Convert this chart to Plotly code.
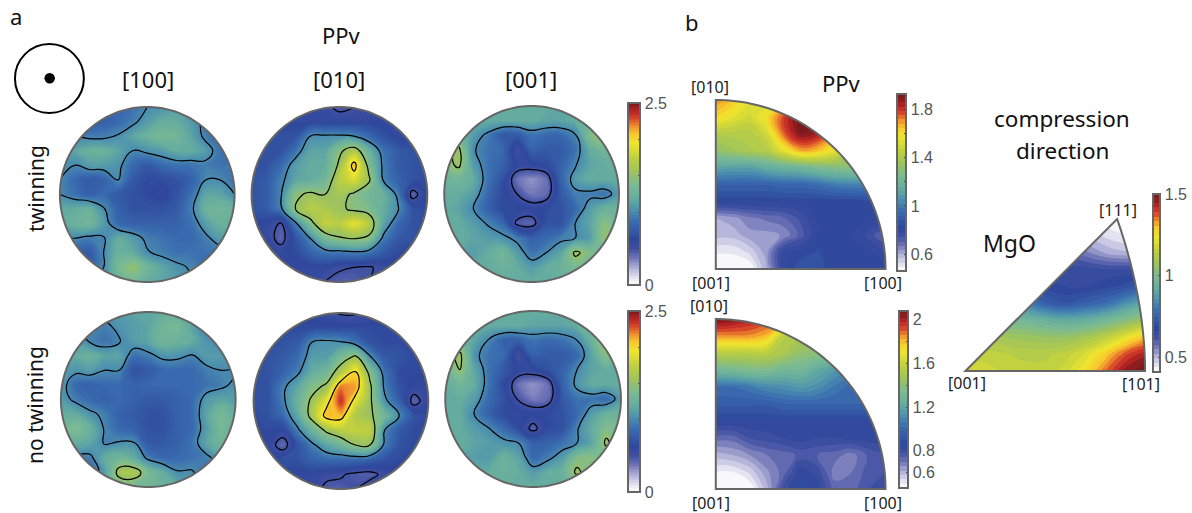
import numpy as np
import plotly.graph_objects as go

W, H = 1192, 513

# ---------- pole figure values, rows top to bottom ----------
tw_100 = [
 [.8,.8,.8,.8,.85,.9,1.0,1.05,1.1,1.1,1.0,1.0,1.0],
 [.8,.8,.75,.8,.85,.95,1.1,1.2,1.2,1.1,.95,.9,.9],
 [1.0,1.0,.95,.95,1.02,1.15,1.25,1.35,1.3,1.15,.95,.85,.85],
 [1.2,1.15,1.25,1.25,1.15,1.0,1.05,1.1,1.2,1.2,1.1,.9,.85],
 [1.05,1.0,1.1,1.1,1.05,.85,.75,.85,.9,.9,.95,.9,.95],
 [1.0,.85,.75,.8,1.0,.75,.65,.65,.7,.8,1.0,1.0,.9],
 [1.0,.9,.8,.85,.75,.7,.65,.6,.7,.88,1.15,1.15,1.0],
 [1.2,1.2,1.25,1.02,.8,.7,.7,.7,.75,.95,1.25,1.3,1.25],
 [1.2,1.25,1.3,1.1,.85,.8,.8,.8,.8,.88,1.1,1.25,1.2],
 [1.0,1.0,.95,.98,1.2,1.1,.95,.9,.85,.85,.95,1.1,1.1],
 [.8,.8,.75,1.0,1.25,1.2,1.02,.95,.9,.9,.9,.9,.9],
 [.8,.8,.8,1.0,1.35,1.5,1.3,1.15,1.05,.98,.9,.9,.9],
 [1.0,1.0,1.0,1.1,1.2,1.3,1.2,1.15,1.1,1.0,1.0,1.0,1.0],
]
tw_010 = [
 [.6,.6,.6,.6,.55,.55,.45,.5,.55,.6,.6,.6,.6],
 [.65,.6,.6,.6,.6,.6,.6,.6,.6,.6,.6,.6,.6],
 [.7,.7,.7,.7,1.0,1.03,1.03,1.0,.85,.7,.6,.6,.6],
 [.7,.7,.7,.9,1.15,1.15,1.45,1.65,1.25,.9,.75,.7,.7],
 [.7,.7,.85,1.1,1.2,1.2,1.55,2.1,1.42,.95,.75,.7,.7],
 [.7,.75,.95,1.15,1.2,1.3,1.7,1.85,1.55,.98,.8,.7,.65],
 [.7,.75,.98,1.45,1.55,1.5,1.6,1.45,1.3,1.25,.95,.42,.65],
 [.7,.75,.95,1.5,1.7,1.65,1.55,1.45,1.4,1.2,1.02,.7,.65],
 [.65,.6,.48,.95,1.4,1.75,1.7,1.9,1.7,1.15,.85,.7,.65],
 [.6,.6,.42,.7,1.0,1.35,1.48,1.52,1.45,.95,.75,.7,.65],
 [.6,.6,.6,.65,.8,.9,.92,.95,.9,.75,.65,.6,.6],
 [.6,.6,.6,.6,.6,.6,.52,.5,.48,.55,.6,.6,.6],
 [.6,.6,.6,.6,.6,.5,.45,.45,.5,.6,.6,.6,.6],
]
tw_001 = [
 [1.15,1.15,1.15,1.2,1.2,1.2,1.2,1.2,1.15,1.15,1.2,1.2,1.2],
 [1.15,1.15,1.2,1.2,1.2,1.2,1.2,1.15,1.15,1.2,1.25,1.2,1.15],
 [1.3,1.3,1.1,.95,.75,.75,.9,.85,.85,.98,1.4,1.55,1.3],
 [1.4,1.55,1.02,.9,.85,.5,.8,.75,.75,.9,1.2,1.3,1.2],
 [1.4,1.55,1.1,.9,.8,.6,.6,.65,.8,.98,1.15,1.2,1.25],
 [1.25,1.3,1.2,.9,.7,.38,.3,.38,.8,1.1,1.2,1.2,1.2],
 [1.2,1.2,1.1,.85,.65,.5,.36,.4,.75,.95,.95,.9,1.1],
 [1.2,1.15,1.0,.8,.65,.65,.6,.65,.7,.85,1.1,1.25,1.25],
 [1.2,1.2,1.1,.98,.85,.45,.42,.7,.7,1.0,1.15,1.45,1.3],
 [1.2,1.2,1.15,1.1,1.05,.95,.8,.85,.95,1.0,1.1,1.5,1.3],
 [1.15,1.15,1.1,1.2,1.3,1.1,.9,1.0,1.15,1.55,1.4,1.3,1.2],
 [1.2,1.2,1.2,1.2,1.25,1.2,1.1,1.2,1.25,1.35,1.3,1.25,1.2],
 [1.2,1.2,1.2,1.2,1.2,1.2,1.2,1.2,1.2,1.2,1.2,1.2,1.2],
]
no_100 = [
 [1.1,1.1,1.1,1.1,1.1,1.15,1.15,1.2,1.2,1.2,1.1,1.1,1.1],
 [1.0,1.0,1.0,.95,1.05,1.1,1.15,1.3,1.35,1.15,.95,.9,.9],
 [1.1,1.1,.98,.9,.98,1.1,1.15,1.3,1.25,1.2,1.05,.98,1.0],
 [1.2,1.2,1.25,1.15,1.15,.9,.95,1.05,1.05,.98,1.1,1.1,1.1],
 [1.1,1.05,1.1,1.0,1.0,.7,.75,.85,.85,.85,.95,1.0,1.0],
 [1.1,.85,.8,.85,.85,.8,.85,.85,.85,.85,.9,.95,1.05],
 [1.1,.95,.85,.8,.85,.8,.75,.75,.8,.85,1.08,1.15,1.1],
 [1.2,1.2,1.05,.95,.8,.75,.7,.7,.8,.85,1.15,1.35,1.2],
 [1.3,1.4,1.25,.98,.85,.8,.7,.7,.8,.85,1.1,1.35,1.2],
 [1.1,1.2,1.15,.98,1.02,1.02,.75,.75,.8,.9,1.15,1.3,1.2],
 [1.0,.95,.95,1.2,1.3,1.2,.95,.85,.85,.9,.95,1.1,1.1],
 [.9,.9,.85,1.1,1.6,1.65,1.35,1.2,1.02,1.02,.9,1.0,1.0],
 [1.3,1.3,1.3,1.3,1.3,1.3,1.3,1.25,1.2,1.1,1.1,1.1,1.1],
]
no_010 = [
 [.6,.6,.6,.6,.6,.55,.48,.48,.55,.6,.6,.6,.6],
 [.65,.65,.65,.65,.65,.65,.65,.65,.65,.65,.65,.65,.65],
 [.7,.7,.7,.75,1.0,1.05,1.02,.9,.7,.65,.65,.65,.65],
 [.7,.7,.75,.85,1.1,1.1,1.35,1.55,1.02,.75,.7,.65,.65],
 [.7,.7,.8,.95,1.2,1.3,1.65,2.0,1.4,.9,.65,.65,.65],
 [.7,.7,.95,1.15,1.4,1.55,2.2,2.15,1.55,.95,.7,.6,.6],
 [.7,.7,.95,1.25,1.55,1.9,2.35,1.9,1.55,1.05,.8,.42,.6],
 [.65,.7,.85,1.15,1.6,2.1,2.1,1.65,1.55,1.3,1.0,.7,.65],
 [.6,.65,.6,.95,1.25,1.55,1.7,1.75,1.75,1.0,.75,.65,.65],
 [.6,.6,.4,.7,.95,1.15,1.3,1.5,1.5,.95,.7,.65,.6],
 [.65,.6,.7,.7,.8,.85,.85,.85,.8,.7,.65,.6,.6],
 [.6,.6,.6,.6,.6,.55,.52,.46,.44,.55,.6,.6,.6],
 [.6,.6,.6,.6,.6,.45,.45,.5,.6,.6,.6,.6,.6],
]
no_001 = [
 [1.2,1.2,1.2,1.2,1.2,1.2,1.2,1.2,1.2,1.2,1.2,1.2,1.2],
 [1.2,1.2,1.2,1.2,1.2,1.2,1.15,1.15,1.15,1.2,1.3,1.2,1.2],
 [1.3,1.3,1.15,.98,.8,.8,.9,.85,.9,1.0,1.25,1.55,1.3],
 [1.4,1.55,1.05,.9,.85,.5,.8,.75,.75,.85,1.15,1.45,1.2],
 [1.25,1.5,1.15,.9,.75,.6,.6,.7,.8,1.0,1.15,1.2,1.2],
 [1.2,1.3,1.2,.9,.65,.38,.3,.38,.8,1.05,1.2,1.2,1.2],
 [1.2,1.2,1.1,.85,.7,.48,.35,.4,.75,.9,.9,.85,1.1],
 [1.2,1.2,.98,.8,.65,.65,.62,.65,.7,.85,1.1,1.25,1.25],
 [1.2,1.2,1.1,1.0,.85,.65,.44,.65,.7,.98,1.2,1.4,1.35],
 [1.2,1.2,1.15,1.1,1.05,1.0,.8,.8,.9,1.0,1.15,1.55,1.3],
 [1.15,1.15,1.1,1.1,1.25,1.15,.85,.95,1.1,1.4,1.45,1.3,1.2],
 [1.2,1.2,1.2,1.2,1.25,1.2,1.1,1.2,1.25,1.55,1.35,1.25,1.2],
 [1.2,1.2,1.2,1.2,1.2,1.2,1.2,1.2,1.2,1.2,1.2,1.2,1.2],
]

# ---------- inverse pole figures ----------
ppv_tw = [
 [1.72,1.65,1.55,1.5,1.5,1.5,1.5,1.5,1.5,1.5,1.5],
 [1.62,1.55,1.5,1.6,1.78,1.92,1.9,1.8,1.7,1.6,1.5],
 [1.42,1.42,1.42,1.5,1.75,1.9,1.85,1.7,1.6,1.5,1.4],
 [1.32,1.36,1.4,1.42,1.55,1.68,1.65,1.55,1.4,1.35,1.3],
 [1.12,1.1,1.1,1.15,1.18,1.2,1.25,1.28,1.3,1.3,1.3],
 [.92,.92,.92,.92,.94,.94,.96,1.0,1.02,1.02,1.02],
 [.82,.82,.82,.82,.82,.82,.82,.82,.82,.84,.86],
 [.6,.62,.66,.68,.7,.75,.82,.82,.82,.82,.82],
 [.58,.58,.62,.62,.64,.72,.82,.82,.82,.76,.7],
 [.5,.5,.54,.62,.8,.82,.85,.82,.82,.82,.78],
 [.46,.46,.46,.6,.8,.88,.86,.82,.82,.82,.82],
]
ppv_no = [
 [2.08,2.05,2.0,1.95,1.9,1.8,1.7,1.6,1.5,1.5,1.5],
 [1.85,1.85,1.85,1.8,1.55,1.5,1.45,1.4,1.4,1.4,1.4],
 [1.55,1.55,1.55,1.55,1.5,1.42,1.4,1.35,1.3,1.3,1.3],
 [1.3,1.32,1.35,1.35,1.3,1.3,1.22,1.15,1.1,1.1,1.1],
 [1.02,1.02,1.05,1.1,1.12,1.15,1.12,1.05,1.0,1.0,1.0],
 [.95,.95,.95,.95,.98,.98,.98,.98,.98,.98,.98],
 [.86,.86,.86,.86,.86,.86,.86,.86,.86,.86,.86],
 [.72,.72,.78,.8,.82,.84,.82,.82,.84,.84,.86],
 [.6,.62,.66,.7,.72,.75,.74,.72,.68,.75,.77],
 [.5,.5,.55,.65,.72,.85,.8,.68,.7,.76,.78],
 [.46,.46,.46,.6,.8,.88,.85,.72,.72,.78,.8],
]
mgo = [
 [.62,.6,.58,.55,.5,.48,.45,.42,.42,.42],
 [.68,.66,.64,.62,.6,.56,.5,.46,.44,.44],
 [.68,.66,.64,.64,.62,.6,.56,.52,.5,.5],
 [.7,.68,.66,.66,.66,.65,.65,.64,.64,.64],
 [.75,.75,.72,.7,.68,.66,.66,.68,.7,.75],
 [.9,.9,.88,.82,.75,.72,.75,.78,.85,.92],
 [1.0,1.0,.98,.97,.94,.92,.93,.97,1.02,1.08],
 [1.1,1.1,1.08,1.07,1.06,1.06,1.09,1.14,1.22,1.3],
 [1.16,1.15,1.14,1.13,1.13,1.15,1.2,1.28,1.38,1.44],
 [1.18,1.18,1.16,1.15,1.15,1.18,1.25,1.36,1.46,1.5],
]

colors = [[0,"#ffffff"],[.02,"#f4f4fa"],[.05,"#d8d8ec"],[.1,"#a9aad4"],[.15,"#6d72b6"],
          [.2,"#3f50a2"],[.25,"#2f479c"],[.35,"#3a6db0"],[.42,"#4f94ae"],[.48,"#66ad9f"],
          [.55,"#7bba93"],[.62,"#9cc35e"],[.7,"#c2d13f"],[.78,"#f0e52e"],[.83,"#f8c82c"],
          [.87,"#f0932d"],[.91,"#d94a2a"],[.95,"#be2525"],[1,"#7c1a1d"]]

FONT = "Noto Sans"
CB_FONT = "Liberation Sans"
GRAY = "#666666"
fig = go.Figure()
shapes, annos = [], []
nax = [0]

def px(x): return x / W
def py(y): return 1 - y / H

def poly(pts):
    return "M" + " L".join(f"{px(a):.5f},{py(b):.5f}" for a, b in pts) + " Z"

def add_panel(z, box, zr, cb, tickvals, ticktext, lines=False, dz=.02):
    """box: left, top, right, bottom pixels. cb: left, top, right, bottom pixels"""
    nax[0] += 1
    k = "" if nax[0] == 1 else str(nax[0])
    l, t, r, b = box
    fig.update_layout({
        f"xaxis{k}": dict(domain=[px(l), px(r)], range=[0, 1], visible=False, anchor=f"y{k}", fixedrange=True),
        f"yaxis{k}": dict(domain=[py(b), py(t)], range=[0, 1], visible=False, anchor=f"x{k}", fixedrange=True),
    })
    z = np.array(z, dtype=float)
    nr, nc = z.shape
    xs = np.arange(nc) / (nc - 1)
    ys = 1 - np.arange(nr) / (nr - 1)
    colorbar = None
    if cb:
        colorbar = dict(x=px(cb[0]), xanchor="left", y=py((cb[1] + cb[3]) / 2), yanchor="middle",
                        lenmode="fraction", len=(cb[3] - cb[1]) / H,
                        thicknessmode="pixels", thickness=cb[2] - cb[0], xpad=0, ypad=0,
                        outlinecolor=GRAY, outlinewidth=2, borderwidth=0,
                        tickmode="array", tickvals=tickvals, ticktext=ticktext,
                        ticks="inside", ticklen=3, tickcolor="#444444", tickwidth=1,
                        tickfont=dict(family=CB_FONT, size=16, color="#555555"))
    fig.add_trace(go.Contour(x=xs, y=ys, z=z, xaxis=f"x{k}", yaxis=f"y{k}",
                             colorscale=colors, zmin=zr[0], zmax=zr[1], zauto=False,
                             autocontour=False, hoverinfo="skip",
                             contours=dict(coloring="fill", start=zr[0], end=zr[1], size=dz, showlines=False),
                             line=dict(width=0, smoothing=1.3),
                             showscale=bool(cb), colorbar=colorbar))
    if lines:
        fig.add_trace(go.Contour(x=xs, y=ys, z=z, xaxis=f"x{k}", yaxis=f"y{k}",
                                 autocontour=False, showscale=False, hoverinfo="skip",
                                 contours=dict(coloring="none", start=.5, end=2.0, size=.5),
                                 line=dict(color="black", width=1.2, smoothing=1.3)))

def mask(outline, box):
    l, t, r, b = box
    pad = 4
    rect = [(l - pad, t - pad), (r + pad, t - pad), (r + pad, b + pad), (l - pad, b + pad)]
    shapes.append(dict(type="path", xref="paper", yref="paper", layer="above",
                       path=poly(rect) + " " + poly(outline), fillcolor="white",
                       fillrule="evenodd", line=dict(width=0)))
    shapes.append(dict(type="path", xref="paper", yref="paper", layer="above",
                       path=poly(outline), fillcolor="rgba(0,0,0,0)", line=dict(color=GRAY, width=2)))

def disc_outline(box):
    l, t, r, b = box
    a = np.linspace(0, 2 * np.pi, 181)[:-1]
    return list(zip((l + r) / 2 + (r - l) / 2 * np.cos(a), (t + b) / 2 + (b - t) / 2 * np.sin(a)))

def quarter_outline(box):
    l, t, r, b = box
    a = np.linspace(0, np.pi / 2, 61)
    return [(l, b)] + list(zip(l + (r - l) * np.cos(a), b - (b - t) * np.sin(a)))

def tri_outline(p0, p1, p2):
    # p0 [001], p1 [101], p2 [111]; right edge slightly bowed
    edge = []
    for s in np.linspace(0, 1, 25):
        x = p1[0] + (p2[0] - p1[0]) * s ** 1.9
        y = p1[1] + (p2[1] - p1[1]) * s
        edge.append((x, y))
    return [p0] + edge

tv = [0, .5, 1, 1.5, 2, 2.5]
tt = ["0", "", "", "", "", "2.5"]
discs = [
    (tw_100, (60, 107, 235, 282)), (tw_010, (252, 107, 428, 282)), (tw_001, (445, 106, 620, 282)),
    (no_100, (61, 312, 236, 487)), (no_010, (254, 313, 429, 489)), (no_001, (446, 311, 622, 487)),
]
for i, (z, box) in enumerate(discs):
    cb = None
    if i == 2: cb = (629, 103, 641, 285)
    if i == 5: cb = (629, 311, 641, 492)
    add_panel(z, box, (0, 2.5), cb, tv, tt, lines=True)
    mask(disc_outline(box), box)

b1 = (717, 100, 887, 269)
add_panel(ppv_tw, b1, (.46, 1.93), (899, 94, 908, 271),
          [.6, .8, 1, 1.2, 1.4, 1.6, 1.8], ["0.6", "", "1", "", "1.4", "", "1.8"], dz=.035)
mask(quarter_outline(b1), b1)
b2 = (717, 319, 887, 489)
add_panel(ppv_no, b2, (.46, 2.08), (901, 311, 910, 488),
          [.6, .8, 1, 1.2, 1.4, 1.6, 1.8, 2], ["0.6", "0.8", "", "1.2", "", "1.6", "", "2"], dz=.04)
mask(quarter_outline(b2), b2)
b3 = (967, 219, 1147, 371)
add_panel(mgo, b3, (.41, 1.5), (1155, 194, 1162, 372), [.5, 1, 1.5], ["0.5", "1", "1.5"], dz=.028)
mask(tri_outline((967, 371), (1147, 371), (1119, 219)), b3)

def text(s, x, y, size=21, font=FONT, color="#111111", angle=0):
    annos.append(dict(text=s, x=px(x), y=py(y), xref="paper", yref="paper", showarrow=False,
                      xanchor="center", yanchor="middle", textangle=angle,
                      font=dict(family=font, size=size, color=color)))

text("a", 16, 16, 22); text("b", 693, 22, 22)
text("PPv", 342, 35, 22); text("[100]", 148, 79, 22); text("[010]", 340, 79, 22); text("[001]", 532, 79, 22)
text("twinning", 36, 188, 21, angle=-90); text("no twinning", 35, 405, 21, angle=-90)
text("PPv", 843, 83, 22); text("compression", 1064, 119, 22.5); text("direction", 1064, 150, 22.5)
text("MgO", 1011, 243, 23)
for s, x, y in [("[010]", 711, 87), ("[001]", 712, 283), ("[100]", 884, 283),
                ("[010]", 710, 306), ("[001]", 712, 503), ("[100]", 884, 503),
                ("[001]", 969, 383), ("[101]", 1143, 384), ("[111]", 1120, 210)]:
    text(s, x, y, 16, color="#222222")

# compression direction icon
shapes.append(dict(type="circle", xref="paper", yref="paper", x0=px(15), x1=px(84), y0=py(113), y1=py(44),
                   line=dict(color="black", width=2), fillcolor="white"))
shapes.append(dict(type="circle", xref="paper", yref="paper", x0=px(44.5), x1=px(55), y0=py(83.5), y1=py(73),
                   line=dict(width=0), fillcolor="black"))

fig.update_layout(width=W, height=H, margin=dict(l=0, r=0, t=0, b=0), autosize=False,
                  paper_bgcolor="white", plot_bgcolor="white", showlegend=False,
                  shapes=shapes, annotations=annos)
fig.write_html("out.html", config=dict(displayModeBar=False),
               post_script="document.body.style.margin='0';document.body.style.overflow='hidden';")
